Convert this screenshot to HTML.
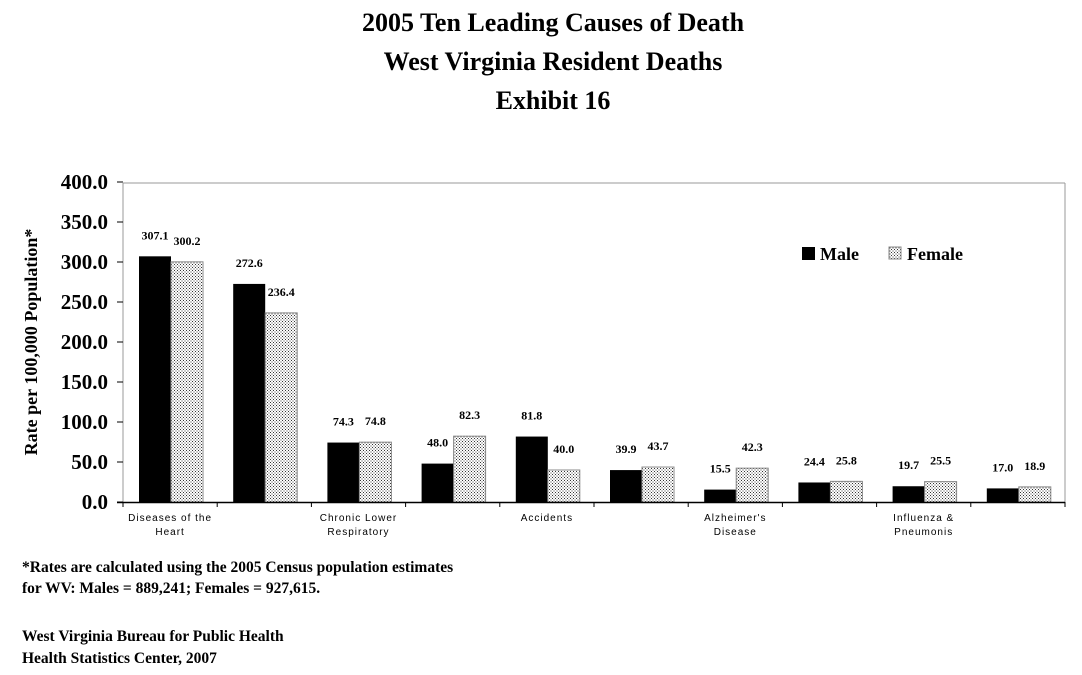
<!DOCTYPE html>
<html><head><meta charset="utf-8"><style>
body{margin:0;background:#fff;width:1082px;height:675px;overflow:hidden;font-family:"Liberation Serif",serif}
svg{display:block}
</style></head><body>
<svg width="1082" height="675" xmlns="http://www.w3.org/2000/svg">
<defs>
<pattern id="dots" width="3" height="3" patternUnits="userSpaceOnUse">
<rect width="3" height="3" fill="#fff"/><rect x="0" y="0" width="1" height="1" fill="#333"/><rect x="1.5" y="1.5" width="1" height="1" fill="#333"/>
</pattern>
</defs>
<g font-family="Liberation Serif, serif" font-weight="bold" text-anchor="middle" font-size="26">
<text x="553" y="31">2005 Ten Leading Causes of Death</text>
<text x="553" y="70">West Virginia Resident Deaths</text>
<text x="553" y="109">Exhibit 16</text>
</g>
<text transform="translate(37,342) rotate(-90)" text-anchor="middle" font-weight="bold" font-size="18">Rate per 100,000 Population*</text>
<line x1="123" y1="183" x2="1065" y2="183" stroke="#999"/>
<line x1="1065" y1="183" x2="1065" y2="502" stroke="#999"/>
<line x1="123" y1="183" x2="123" y2="503" stroke="#999"/>
<g id="ticks"></g>
<g id="bars"></g>
<line x1="117" y1="502.5" x2="1065" y2="502.5" stroke="#000" stroke-width="1.5"/>
<g>
<rect x="802" y="247" width="13" height="13" fill="#000"/>
<text x="820" y="260" font-weight="bold" font-size="18">Male</text>
<rect x="889" y="247" width="12" height="12" fill="url(#dots)" stroke="#888"/>
<text x="907" y="260" font-weight="bold" font-size="18">Female</text>
</g>
<g font-weight="bold" font-size="15.5">
<text x="22" y="572">*Rates are calculated using the 2005 Census population estimates</text>
<text x="22" y="593">for WV:  Males = 889,241;  Females = 927,615.</text>
<text x="22" y="641">West Virginia Bureau for Public Health</text>
<text x="22" y="663">Health Statistics Center, 2007</text>
</g>
</svg>
<script>
const categories=["Diseases of the Heart","Malignant Neoplasms","Chronic Lower Respiratory","Diabetes","Accidents","Stroke","Alzheimer's Disease","Nephritis","Influenza & Pneumonis","Septicemia"];
const catLabels=[["Diseases of the","Heart"],[],["Chronic Lower","Respiratory"],[],["Accidents"],[],["Alzheimer's","Disease"],[],["Influenza &","Pneumonis"],[]];
const male=[307.1,272.6,74.3,48.0,81.8,39.9,15.5,24.4,19.7,17.0];
const female=[300.2,236.4,74.8,82.3,40.0,43.7,42.3,25.8,25.5,18.9];
const yTicks=[0,50,100,150,200,250,300,350,400];
const NS="http://www.w3.org/2000/svg";
const x0=123,x1=1065,y0=502,yTop=182,yMax=400;
const band=(x1-x0)/categories.length;
const y=v=>y0-(v/yMax)*(y0-yTop);
const xc=i=>x0+band*i;
const svg=document.querySelector('svg');
const tg=document.getElementById('ticks'),bg=document.getElementById('bars');
function mk(t,a,p){const e=document.createElementNS(NS,t);for(const k in a)e.setAttribute(k,a[k]);(p||svg).appendChild(e);return e;}
yTicks.forEach(v=>{
 const l=mk('line',{x1:117,x2:123,y1:y(v),y2:y(v),stroke:'#000'},tg);
 
 
 const t=mk('text',{x:108,y:y(v)+7,'text-anchor':'end','font-weight':'bold','font-size':'21'},tg);
 t.textContent=v.toFixed(1);
 
 
});
for(let i=0;i<=categories.length;i++){
 const l=mk('line',{x1:xc(i),x2:xc(i),y1:502,y2:507,stroke:'#000'},tg);
 
 
}
categories.forEach((c,i)=>{
 const bx=xc(i)+16,w=32;
 const m=mk('rect',{x:bx,y:y(male[i]),width:w,height:y0-y(male[i]),fill:'#000'},bg);
 
 
 const f=mk('rect',{x:bx+w,y:y(female[i]),width:w,height:y0-y(female[i]),fill:'url(#dots)',stroke:'#888'},bg);
 
 
 const ml=mk('text',{x:bx+w/2,y:y(male[i])-17,'text-anchor':'middle','font-weight':'bold','font-size':'12'},bg);
 ml.textContent=male[i].toFixed(1);
 
 
 const fl=mk('text',{x:bx+w*1.5,y:y(female[i])-17,'text-anchor':'middle','font-weight':'bold','font-size':'12'},bg);
 fl.textContent=female[i].toFixed(1);
 
 
 catLabels[i].forEach((s,j)=>{
  const t=mk('text',{x:xc(i)+band/2,y:521+j*14,'text-anchor':'middle','font-family':'Liberation Sans, sans-serif','font-size':'10','letter-spacing':'1'},bg);
  t.textContent=s;
  
  
 });
});
</script>
</body></html>
